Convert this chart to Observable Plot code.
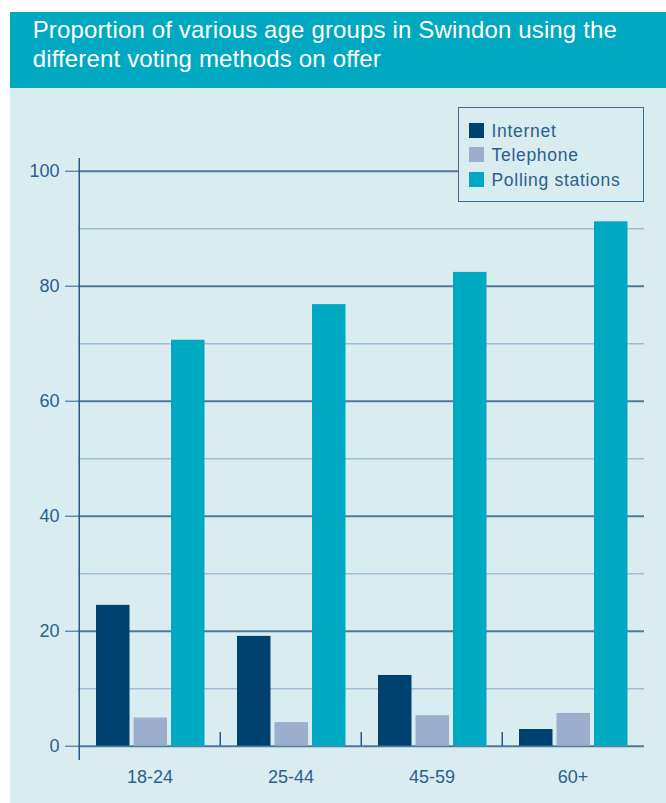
<!DOCTYPE html>
<html><head><meta charset="utf-8">
<script src="https://cdn.jsdelivr.net/npm/d3@7"></script>
<script src="https://cdn.jsdelivr.net/npm/@observablehq/plot@0.6"></script>
<style>
body{margin:0;background:#fff;font-family:"Liberation Sans",Arial,sans-serif;}
#wrap{position:relative;width:666px;height:803px;overflow:hidden;}
#title{position:absolute;left:10px;top:12px;width:656px;height:76px;background:#00a8c1;color:#fff;font-size:24px;line-height:28.4px;letter-spacing:0.15px;box-sizing:border-box;padding:4.2px 0 0 22.7px;white-space:nowrap;}
#panel{position:absolute;left:10px;top:88px;width:656px;height:715px;background:#d9ecf0;}
#panel svg{position:absolute;left:0;top:0;}
#legend{position:absolute;left:448px;top:19px;width:186px;height:95px;box-sizing:border-box;border:1.5px solid #3d6b96;background:#d9ecf0;}
.sw{position:absolute;left:9.5px;width:15px;height:15px;}
.lt{position:absolute;left:32.5px;font-size:17.5px;line-height:20px;color:#2b5f8f;letter-spacing:0.7px;white-space:nowrap;}
</style></head>
<body>
<div id="wrap">
  <div id="title">Proportion of various age groups in Swindon using the<br>different voting methods on offer</div>
  <div id="panel"><div id="legend"></div></div>
</div>
<script>
const ages = ["18-24", "25-44", "45-59", "60+"];
const methods = ["Internet", "Telephone", "Polling stations"];
const internet = [24.5, 19.1, 12.3, 2.9];
const telephone = [4.9, 4.1, 5.3, 5.7];
const polling = [70.6, 76.8, 82.4, 91.2];
const colors = ["#00426f", "#9bafcc", "#00a9c2"];
const majorTicks = [0, 20, 40, 60, 80, 100];
const minorTicks = [10, 30, 50, 70, 90];

const series = [internet, telephone, polling];
const table = methods.flatMap((m, j) => ages.map((a, i) => ({age: a, method: m, value: series[j][i]})));

const W = 656, H = 715;
const mL = 68, mR = 22, mT = 70, mB = 43;
const step = (W - mL - mR) / ages.length;
const barW = 34, gap = 3.5, lead = 17;

const barMarks = methods.map((m, j) => {
  const left = lead + j * (barW + gap);
  return Plot.barY(table.filter(d => d.method === m), {
    x: "age", y: "value", fill: colors[j],
    insetLeft: left, insetRight: step - left - barW
  });
});

const chart = Plot.plot({
  width: W, height: H,
  marginLeft: mL, marginRight: mR, marginTop: mT, marginBottom: mB,
  style: {background: "transparent", color: "#2b5f8f", fontSize: "18px", fontFamily: "'Liberation Sans', Arial, sans-serif"},
  x: {domain: ages, padding: 0, tickSize: 0, tickPadding: 10, label: null},
  y: {domain: [0, 100], range: [657.7, 82.7], ticks: majorTicks, tickSize: 13, tickPadding: 6, label: null},
  marks: [
    Plot.ruleY(minorTicks, {stroke: "#a5bdd4", strokeWidth: 1.5}),
    Plot.ruleY(majorTicks, {stroke: "#4f7a9c", strokeWidth: 2}),
    ...barMarks,
    Plot.ruleX([ages[0]], {x: d => d, dx: -step / 2, stroke: "#245a8a", strokeWidth: 1.5}),
    Plot.ruleX(ages.slice(1), {x: d => d, dx: -step / 2, stroke: "#245a8a", strokeWidth: 1.5, insetTop: 574, insetBottom: 14.3})
  ]
});
document.getElementById("panel").insertBefore(chart, document.getElementById("legend"));

const legend = document.getElementById("legend");
methods.forEach((m, i) => {
  const s = document.createElement("div");
  s.className = "sw"; s.style.top = (14.5 + 24.5 * i) + "px"; s.style.background = colors[i];
  const t = document.createElement("div");
  t.className = "lt"; t.style.top = (12.5 + 24.5 * i) + "px"; t.textContent = m;
  legend.appendChild(s); legend.appendChild(t);
});
</script>
</body></html>
